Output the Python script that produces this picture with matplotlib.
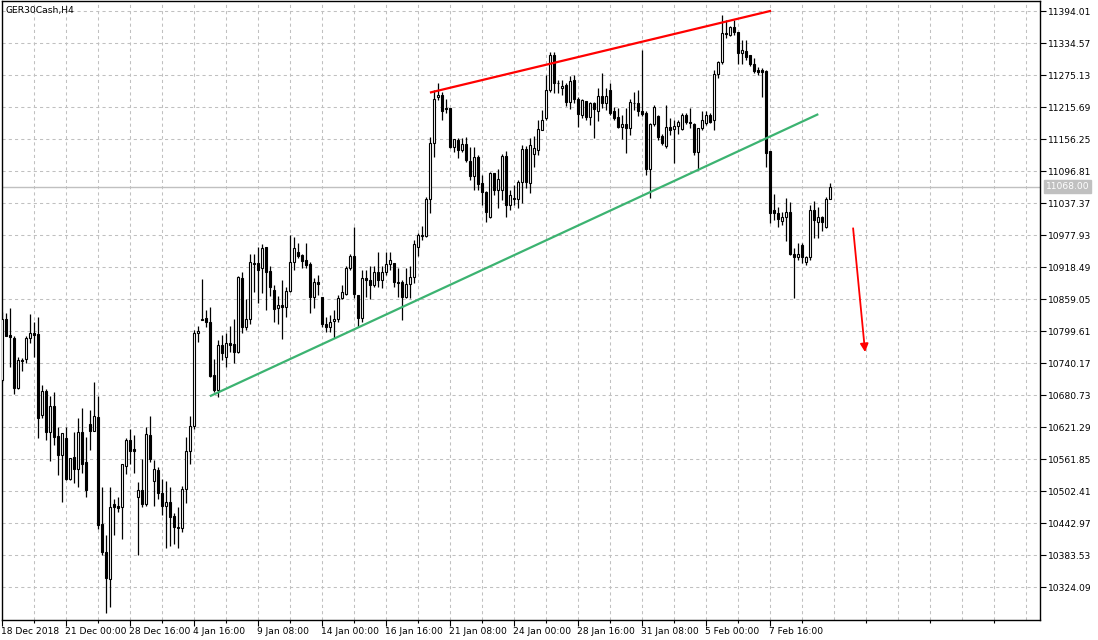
import matplotlib
matplotlib.use("Agg")
import matplotlib.pyplot as plt
import matplotlib.transforms as mtrans
from matplotlib.ticker import FixedLocator

opens = [10709,10822,10793,10788,10695,10746,10748,10788,10796,10794,
10645,10689,10612,10661,10605,10569,10601,10525,10566,10543,
10612,10557,10627,10615,10641,10442,10389,10339,10478,10475,
10474,10550,10598,10581,10492,10504,10479,10607,10522,10542,
10499,10476,10482,10457,10437,10434,10506,10577,10624,10796,
10821,10824,10817,10718,10691,10774,10752,10777,10776,10762,
10898,10807,10822,10926,10926,10917,10956,10912,10876,10842,
10848,10845,10874,10928,10947,10941,10932,10924,10863,10892,
10863,10814,10808,10819,10823,10861,10869,10917,10939,10867,
10824,10898,10895,10886,10910,10895,10910,10924,10926,10892,
10892,10864,10887,10901,10957,10977,10977,11045,11149,11234,
11239,11215,11214,11142,11155,11136,11148,11116,11089,11123,
11075,11059,11011,11093,11062,11062,11125,11035,11047,11045,
11077,11138,11075,11129,11136,11174,11195,11248,11313,11260,
11251,11257,11225,11266,11232,11201,11227,11197,11224,11209,
11237,11224,11247,11208,11198,11180,11185,11178,11224,11224,
11209,11206,11102,11185,11200,11162,11144,11179,11175,11181,
11175,11201,11189,11185,11133,11177,11186,11201,11192,11277,
11299,11353,11350,11364,11355,11317,11321,11312,11297,11285,
11285,11284,11134,11024,11020,11005,11011,11021,10944,10937,
10960,10928,10937,11025,11003,11011,10994,11045]

highs = [10835,10834,10843,10791,10752,10750,10791,10832,10816,10826,
10700,10692,10679,10687,10621,10610,10621,10565,10613,10639,
10658,10604,10653,10706,10680,10511,10421,10510,10488,10492,
10553,10602,10618,10607,10520,10562,10621,10642,10561,10548,
10525,10522,10511,10462,10474,10512,10603,10642,10802,10809,
10896,10840,10844,10748,10783,10793,10796,10809,10822,10902,
10910,10860,10944,10944,10957,10962,10957,10920,10886,10865,
10895,10882,10978,10975,10963,10944,10963,10929,10898,10904,
10863,10827,10830,10839,10867,10886,10920,10944,10994,10867,
10913,10913,10920,10920,10946,10920,10947,10946,10927,10917,
10895,10917,10920,10969,10983,10996,11050,11161,11248,11260,
11245,11232,11215,11157,11158,11158,11161,11142,11142,11127,
11090,11061,11096,11094,11102,11129,11134,11062,11071,11081,
11146,11144,11158,11162,11192,11211,11276,11319,11319,11266,
11266,11261,11274,11276,11234,11232,11228,11226,11226,11251,
11279,11251,11260,11217,11214,11201,11214,11232,11245,11248,
11322,11208,11186,11220,11201,11167,11220,11195,11192,11192,
11205,11205,11214,11186,11178,11208,11208,11205,11285,11302,
11388,11378,11367,11378,11356,11341,11341,11313,11307,11291,
11289,11285,11134,11054,11031,11022,11048,11039,10954,10963,
10963,10940,11034,11042,11031,11014,11050,11075]

lows = [10705,10790,10734,10683,10692,10726,10741,10777,10752,10601,
10638,10598,10559,10589,10533,10482,10523,10523,10517,10510,
10537,10492,10579,10615,10432,10384,10276,10288,10421,10464,
10413,10534,10554,10536,10384,10474,10475,10557,10475,10489,
10458,10397,10401,10405,10398,10426,10481,10554,10618,10780,
10821,10808,10715,10687,10678,10746,10734,10761,10740,10759,
10796,10802,10814,10872,10853,10871,10839,10865,10817,10813,
10785,10827,10873,10913,10935,10918,10917,10833,10842,10867,
10808,10799,10799,10788,10817,10859,10867,10913,10861,10808,
10817,10864,10860,10882,10882,10880,10904,10913,10882,10864,
10821,10861,10861,10889,10940,10969,10975,11019,11124,11229,
11193,11205,11140,11133,11121,11133,11115,11081,11062,11062,
11034,11003,11010,11053,11028,11043,11011,11025,11034,11029,
11037,11066,11056,11105,11127,11174,11192,11244,11242,11242,
11239,11218,11213,11223,11179,11196,11192,11183,11159,11191,
11214,11211,11201,11192,11177,11157,11130,11164,11211,11200,
11200,11090,11047,11181,11155,11146,11140,11164,11113,11166,
11174,11185,11177,11127,11099,11174,11183,11187,11174,11271,
11296,11344,11348,11350,11296,11297,11304,11292,11279,11276,
11234,11104,11001,11006,10994,10997,10968,10941,10862,10932,
10926,10923,10932,10973,10972,10985,10991,11045]

closes = [10822,10791,10789,10695,10746,10745,10788,10796,10793,10638,
10689,10612,10661,10603,10569,10610,10525,10565,10543,10612,
10554,10505,10615,10642,10439,10389,10341,10473,10474,10472,
10553,10598,10578,10578,10504,10479,10609,10562,10544,10499,
10476,10482,10455,10436,10434,10506,10577,10624,10796,10800,
10822,10816,10717,10691,10774,10759,10777,10774,10762,10900,
10807,10822,10928,10925,10913,10954,10910,10882,10841,10848,
10844,10874,10928,10954,10940,10931,10923,10864,10892,10887,
10813,10808,10817,10822,10861,10873,10917,10939,10869,10824,
10898,10894,10886,10910,10895,10910,10924,10932,10892,10889,
10864,10887,10901,10962,10978,10978,11045,11149,11232,11239,
11209,11212,11142,11156,11136,11148,11118,11089,11123,11073,
11059,11021,11093,11062,11082,11125,11035,11053,11046,11077,
11138,11077,11146,11140,11175,11193,11248,11313,11260,11261,
11256,11225,11265,11232,11203,11229,11198,11224,11212,11237,
11224,11237,11206,11196,11180,11185,11178,11225,11223,11208,
11203,11102,11185,11216,11161,11149,11179,11174,11181,11189,
11201,11189,11186,11133,11177,11192,11201,11189,11277,11299,
11353,11351,11364,11356,11317,11322,11309,11297,11284,11282,
11282,11131,11020,11019,11008,11011,11021,10944,10937,10943,
10937,10937,11024,11006,11011,11002,11045,11068]

date_labels = ["18 Dec 2018", "21 Dec 00:00", "28 Dec 16:00", "4 Jan 16:00",
               "9 Jan 08:00", "14 Jan 00:00", "16 Jan 16:00", "21 Jan 08:00",
               "24 Jan 00:00", "28 Jan 16:00", "31 Jan 08:00", "5 Feb 00:00",
               "7 Feb 16:00"]
price_ticks = [10324.09, 10383.53, 10442.97, 10502.41, 10561.85, 10621.29,
               10680.73, 10740.17, 10799.61, 10859.05, 10918.49, 10977.93,
               11037.37, 11096.81, 11156.25, 11215.69, 11275.13, 11334.57,
               11394.01]
current_price = 11068.00
title = "GER30Cash,H4"

# annotation objects (bar index, price)
red_line = [(106.9, 11243), (192.2, 11395)]
green_line = [(51.9, 10679), (204.0, 11203)]
arrow_pts = [(212.7, 10991), (215.7, 10761)]

W, H = 1098, 640
fig = plt.figure(figsize=(W / 100, H / 100), dpi=100)
L, R, T, B = 2, 1040, 1, 620
ax = fig.add_axes([L / W, 1 - B / H, (R - L) / W, (B - T) / H])

def px_to_bar(px):
    return (px - 2.3) / 4.0

def py_to_price(py):
    return 11415.0 - 1.8575 * py

ax.set_xlim(px_to_bar(L), px_to_bar(R))
ax.set_ylim(py_to_price(B), py_to_price(T))

n = len(opens)
idx = list(range(n))
grid_kw = dict(color="#c0c0c0", lw=0.75, linestyle=(0, (3, 3)), zorder=0)
for p in price_ticks:
    ax.axhline(p, **grid_kw)
for k in range(8, 260, 8):
    ax.axvline(k, **grid_kw)

ax.axhline(current_price, color="#c0c0c0", lw=1.0, zorder=1)

ax.vlines(idx, lows, highs, color="black", lw=0.9, zorder=2)
heights = [c - o for o, c in zip(opens, closes)]
fcs = ["white" if c > o else "black" for o, c in zip(opens, closes)]
ax.bar(idx, heights, bottom=opens, width=0.5, color=fcs, edgecolor="black",
       linewidth=0.8, zorder=3)

ax.plot([p[0] for p in red_line], [p[1] for p in red_line], color="#ff0000",
        lw=1.6, zorder=4, solid_capstyle="butt")
ax.plot([p[0] for p in green_line], [p[1] for p in green_line],
        color="#3cb371", lw=1.6, zorder=4, solid_capstyle="butt")
ax.annotate("", xy=arrow_pts[1], xytext=arrow_pts[0],
            arrowprops=dict(arrowstyle="-|>", color="#ff0000", lw=1.3,
                            mutation_scale=12, shrinkA=0, shrinkB=0), zorder=5)

for s in ax.spines.values():
    s.set_color("black")
    s.set_linewidth(1.0)

ax.yaxis.tick_right()
ax.set_yticks(price_ticks)
ax.set_yticklabels(["%.2f" % p for p in price_ticks])
ax.tick_params(axis="y", direction="out", length=4, width=0.8, pad=1.5,
               labelsize=6.6, colors="black")

major = [16 * k for k in range(len(date_labels))]
ax.set_xticks(major)
ax.set_xticklabels(date_labels, ha="left")
ax.xaxis.set_minor_locator(FixedLocator([k for k in range(8, 260, 16)]))
ax.tick_params(axis="x", which="major", direction="out", length=4, width=0.8,
               pad=0.8, labelsize=6.6)
ax.tick_params(axis="x", which="minor", direction="out", length=2, width=0.8)
offset = mtrans.ScaledTranslation(-1 / 100, 0, fig.dpi_scale_trans)
for lab in ax.get_xticklabels():
    lab.set_transform(lab.get_transform() + offset)

ax.text(4 / (R - L), 1 - 9 / (B - T), title, transform=ax.transAxes,
        fontsize=6.6, va="center", ha="left", color="black")

ax.annotate("%.2f" % current_price, xy=(1.0, current_price),
            xycoords=("axes fraction", "data"), xytext=(4, 0),
            textcoords="offset points", fontsize=6.6, color="white",
            va="center", ha="left",
            bbox=dict(boxstyle="square,pad=0.2", fc="#c0c0c0", ec="#c0c0c0"),
            annotation_clip=False)

fig.savefig("out.png", dpi=100, facecolor="white")
